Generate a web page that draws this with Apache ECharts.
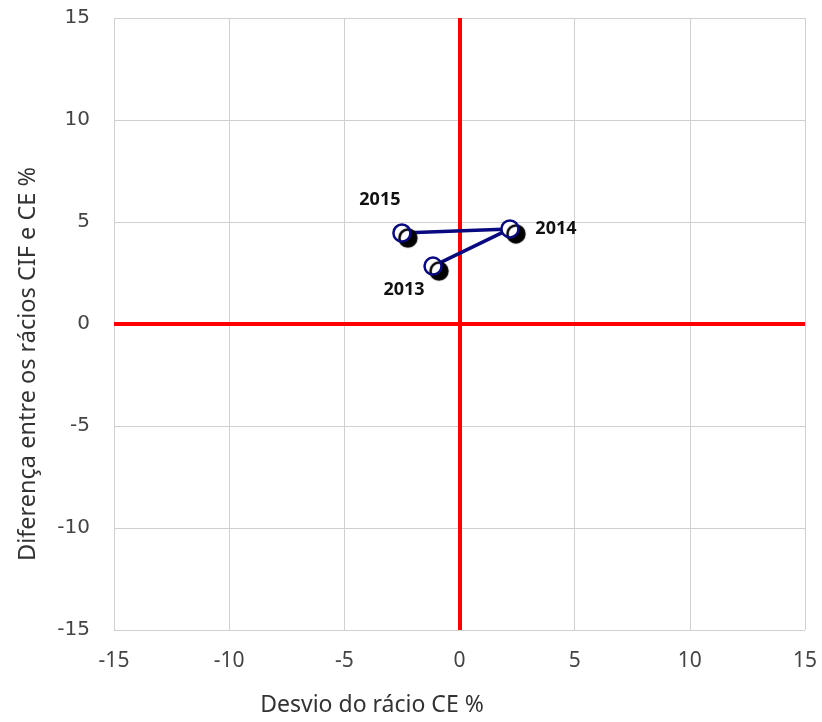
<!DOCTYPE html>
<html><head><meta charset="utf-8">
<script src="https://cdn.jsdelivr.net/npm/echarts@6/dist/echarts.min.js"></script>
<style>html,body{margin:0;padding:0;background:#fff}#c{width:822px;height:722px}</style>
</head><body><div id="c"></div>
<script>
const years = ['2013', '2014', '2015'];
const xValues = [-1.15, 2.19, -2.5];
const yValues = [2.84, 4.66, 4.46];
const axisTicks = [-15, -10, -5, 0, 5, 10, 15];
const xTitle = 'Desvio do rácio CE %';
const yTitle = 'Diferença entre os rácios CIF e CE %';

const labelOffsets = [[-29, 24], [46, 0], [-22, -33]];
const data = years.map((y, i) => ({
  value: [xValues[i], yValues[i]],
  name: y,
  label: { show: true, position: 'inside', offset: labelOffsets[i], formatter: '{b}' }
}));

const chart = echarts.init(document.getElementById('c'));
chart.setOption({
  animation: false,
  grid: { left: 114, right: 17, top: 18, bottom: 92 },
  xAxis: {
    type: 'value', min: axisTicks[0], max: axisTicks[axisTicks.length - 1], interval: 5,
    axisLine: { show: false }, axisTick: { show: false },
    splitLine: { lineStyle: { color: '#d0d0d0', width: 1 } },
    axisLabel: { margin: 21, fontSize: 21, color: '#444', fontFamily: 'Noto Sans' },
    name: xTitle, nameLocation: 'middle', nameGap: 64,
    nameTextStyle: { fontSize: 23, color: '#333', fontFamily: 'Noto Sans', padding: [0, 175, 0, 0] }
  },
  yAxis: {
    type: 'value', min: axisTicks[0], max: axisTicks[axisTicks.length - 1], interval: 5,
    axisLine: { show: false }, axisTick: { show: false },
    splitLine: { lineStyle: { color: '#d0d0d0', width: 1 } },
    axisLabel: { margin: 24, fontSize: 20, color: '#444', fontFamily: 'DejaVu Sans' },
    name: yTitle, nameLocation: 'middle', nameGap: 74,
    nameTextStyle: { fontSize: 23.5, color: '#333', fontFamily: 'Noto Sans', padding: [0, 80, 0, 0] }
  },
  series: [{
    type: 'line',
    data: data,
    symbol: 'circle', symbolSize: 17,
    lineStyle: { color: '#0a0a80', width: 3.5 },
    itemStyle: { color: '#ffffff', borderColor: '#0a0a80', borderWidth: 2.5,
      shadowColor: '#000', shadowOffsetX: 6, shadowOffsetY: 5, shadowBlur: 1 },
    label: { fontSize: 18, fontWeight: 'bold', color: '#111', fontFamily: 'Noto Sans' },
    z: 5,
    markLine: {
      silent: true, symbol: 'none', label: { show: false },
      lineStyle: { color: '#ff0000', width: 4, type: 'solid' },
      data: [{ xAxis: 0 }, { yAxis: 0 }],
      z: 3
    }
  }]
});
</script></body></html>
